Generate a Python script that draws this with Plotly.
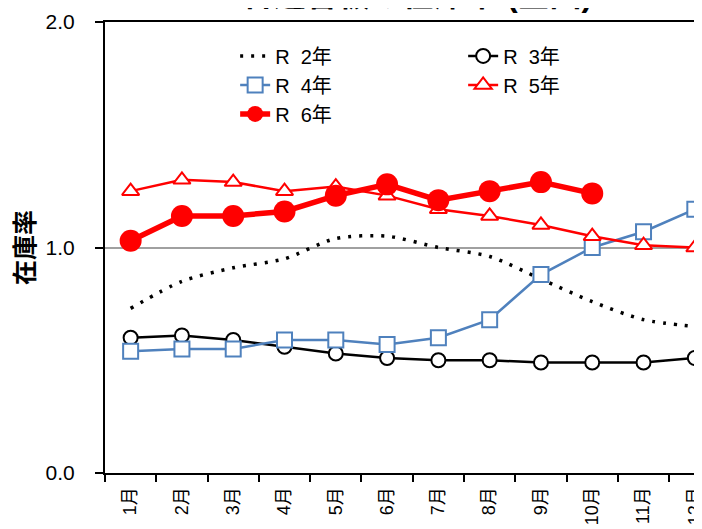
import plotly.graph_objects as go

months = ["1月", "2月", "3月", "4月", "5月", "6月", "7月", "8月", "9月", "10月", "11月", "12月"]

r2 = [0.73, 0.85, 0.91, 0.95, 1.04, 1.05, 1.00, 0.96, 0.86, 0.76, 0.68, 0.65]
r3 = [0.60, 0.61, 0.59, 0.56, 0.53, 0.51, 0.50, 0.50, 0.49, 0.49, 0.49, 0.51]
r4 = [0.54, 0.55, 0.55, 0.59, 0.59, 0.57, 0.60, 0.68, 0.88, 1.00, 1.07, 1.17]
r5 = [1.25, 1.30, 1.29, 1.25, 1.27, 1.23, 1.17, 1.14, 1.10, 1.05, 1.01, 1.00]
r6 = [1.03, 1.14, 1.14, 1.16, 1.23, 1.28, 1.21, 1.25, 1.29, 1.24]

FONT = "Liberation Sans, Noto Sans CJK JP"
BLUE = "#4F81BD"
RED = "#FF0000"

fig = go.Figure()

fig.add_trace(go.Scatter(x=months, y=r2, name="R\u00a0\u00a02年", mode="lines",
                         line=dict(color="black", width=3.5, dash="3px,8px", shape="spline", smoothing=0.8)))
fig.add_trace(go.Scatter(x=months, y=r3, name="R\u00a0\u00a03年", mode="lines+markers",
                         line=dict(color="black", width=2.5),
                         marker=dict(symbol="circle", size=14, color="white", line=dict(color="black", width=2))))
fig.add_trace(go.Scatter(x=months, y=r4, name="R\u00a0\u00a04年", mode="lines+markers",
                         line=dict(color=BLUE, width=2.5),
                         marker=dict(symbol="square", size=15, color="white", line=dict(color=BLUE, width=2))))
fig.add_trace(go.Scatter(x=months, y=r5, name="R\u00a0\u00a05年", mode="lines+markers",
                         line=dict(color=RED, width=2.5),
                         marker=dict(symbol="triangle-up", size=15, color="white", line=dict(color=RED, width=2))))
fig.add_trace(go.Scatter(x=months[:len(r6)], y=r6, name="R\u00a0\u00a06年", mode="lines+markers",
                         line=dict(color=RED, width=5.5),
                         marker=dict(symbol="circle", size=22, color=RED)))

# page puts the figure 8px in from the top-left, margins allow for that
fig.update_layout(
    width=702, height=529,
    paper_bgcolor="white", plot_bgcolor="white",
    margin=dict(l=97, r=8, t=14, b=64),
    font=dict(family=FONT, color="black"),
    legend=dict(orientation="h", x=0.218, y=0.968, xanchor="left", yanchor="top",
                font=dict(size=20), entrywidth=183, tracegroupgap=0,
                bgcolor="rgba(0,0,0,0)"),
    showlegend=True,
)

# title sits mostly above the page, only its lower edge shows
fig.add_annotation(text="<b>普通合板の在庫率 (全国)</b>", font=dict(size=32, color="black"),
                   xref="paper", yref="paper", x=0.523, y=1.06,
                   xanchor="center", yanchor="middle", showarrow=False)

fig.update_xaxes(
    type="category", range=[-0.5, 11.14], automargin=False,
    showline=True, linecolor="black", linewidth=2, mirror=True,
    ticks="outside", tickson="boundaries", ticklen=7, tickcolor="black", tickwidth=1.5,
    tickangle=-90, tickfont=dict(size=18), ticklabelstandoff=5, showgrid=False,
)
fig.update_yaxes(
    range=[0, 2], dtick=1, tickformat=".1f", automargin=False,
    showline=True, linecolor="black", linewidth=2,
    ticks="outside", ticklen=8, tickcolor="black", tickwidth=1.5,
    tickfont=dict(size=21), ticklabelstandoff=16,
    showgrid=True, gridcolor="#A0A0A0", gridwidth=2, zeroline=False,
    title=dict(text="<b>在庫率</b>", font=dict(size=25), standoff=4),
)

fig.write_html("out.html")
